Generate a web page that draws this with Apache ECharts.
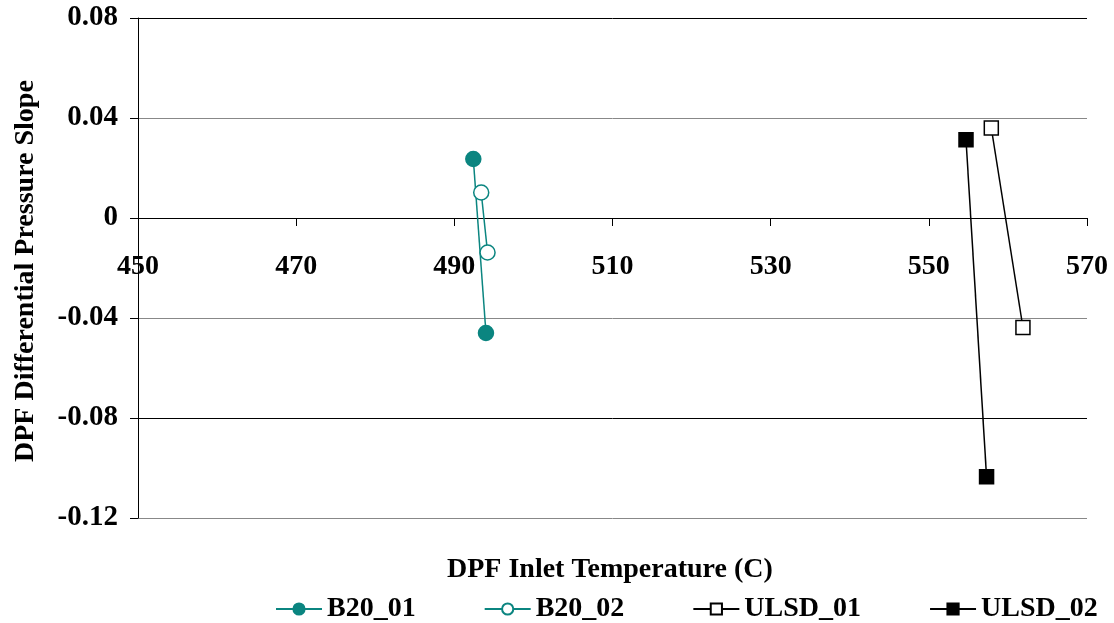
<!DOCTYPE html>
<html>
<head>
<meta charset="utf-8">
<script src="https://cdn.jsdelivr.net/npm/echarts@6/dist/echarts.min.js"></script>
<style>html,body{margin:0;padding:0;background:#fff}#c{width:1114px;height:623px}</style>
</head>
<body>
<div id="c"></div>
<script>
var seriesNames = ['B20_01', 'B20_02', 'ULSD_01', 'ULSD_02'];
var b20_01 = [[492.4, 0.0236], [494.0, -0.046]];
var b20_02 = [[493.4, 0.0102], [494.2, -0.0138]];
var ulsd_01 = [[557.9, 0.036], [561.9, -0.0438]];
var ulsd_02 = [[554.7, 0.0313], [557.3, -0.1035]];
var xTitle = 'DPF Inlet Temperature (C)';
var yTitle = 'DPF Differential Pressure Slope';

var FONT = '"Liberation Serif", "Times New Roman", serif';
var TEAL = '#0b8580';
var chart = echarts.init(document.getElementById('c'));
function mk(name, data, color, symbol, fill) {
  return {
    name: name, type: 'line', data: data,
    symbol: symbol, symbolSize: symbol === 'circle' ? 15 : 14,
    showAllSymbol: true,
    lineStyle: {color: color, width: 1.5},
    itemStyle: {color: fill, borderColor: color, borderWidth: 1.5},
    emphasis: {disabled: true},
    z: 3
  };
}
chart.setOption({
  animation: false,
  grid: {left: 138, right: 27, top: 18, bottom: 105},
  xAxis: {
    type: 'value', min: 450, max: 570, interval: 20,
    axisLine: {onZero: true, lineStyle: {color: '#000', width: 1}},
    axisTick: {show: true, length: 8, lineStyle: {color: '#000'}},
    axisLabel: {margin: -265, color: '#000', fontFamily: FONT, fontWeight: 'bold', fontSize: 28},
    splitLine: {show: false}
  },
  yAxis: {
    type: 'value', min: -0.12, max: 0.08, interval: 0.04,
    axisLine: {show: true, onZero: false, lineStyle: {color: '#000', width: 1}},
    axisTick: {show: true, length: 8, lineStyle: {color: '#000'}},
    axisLabel: {margin: 20, color: '#000', fontFamily: FONT, fontWeight: 'bold', fontSize: 29,
      formatter: function (v) { return Math.abs(v) < 1e-9 ? '0' : v.toFixed(2); }},
    splitLine: {show: true, lineStyle: {color: ['#888', '#000'], width: 1}}
  },
  legend: {
    left: 270, top: 590, itemWidth: 46, itemHeight: 14, itemGap: 68,
    textStyle: {color: '#000', fontFamily: FONT, fontWeight: 'bold', fontSize: 28},
    data: seriesNames
  },
  graphic: [
    {type: 'text', left: 447, top: 556, style: {text: xTitle, font: 'bold 28px ' + FONT, fill: '#000'}},
    {type: 'text', rotation: Math.PI / 2, x: 12, y: 462, style: {text: yTitle, font: 'bold 28px ' + FONT, fill: '#000'}}
  ],
  series: [
    mk(seriesNames[0], b20_01, TEAL, 'circle', TEAL),
    mk(seriesNames[1], b20_02, TEAL, 'circle', '#fff'),
    mk(seriesNames[2], ulsd_01, '#000', 'rect', '#fff'),
    mk(seriesNames[3], ulsd_02, '#000', 'rect', '#000')
  ]
});
</script>
</body>
</html>
